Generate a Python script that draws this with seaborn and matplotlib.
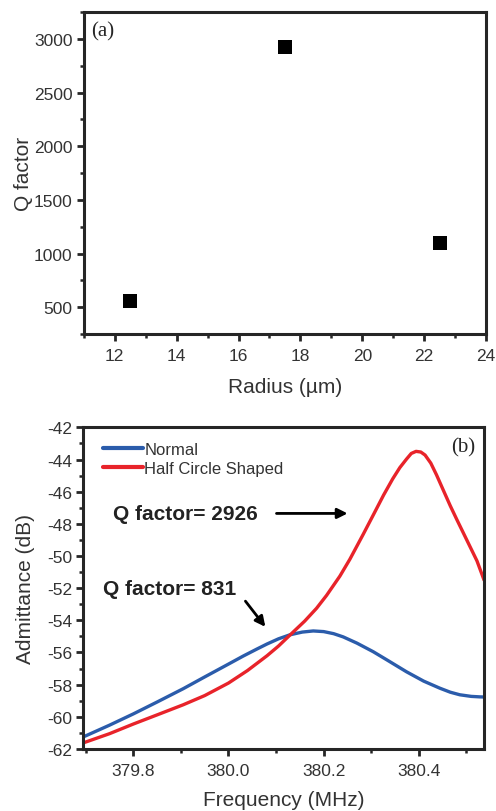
import numpy as np
import pandas as pd
import matplotlib.pyplot as plt
from matplotlib.ticker import MultipleLocator
import seaborn as sns

# (a) Q factor vs radius
radius = [12.5, 17.5, 22.5]
q_factor = [560, 2926, 1100]

# (b) admittance curves
freq_normal = [379.698, 379.75, 379.8, 379.85, 379.905, 379.95, 379.975, 380.0, 380.031,
               380.06, 380.081, 380.105, 380.129, 380.155, 380.178, 380.2, 380.221,
               380.241, 380.27, 380.304, 380.335, 380.374, 380.41, 380.444, 380.466,
               380.486, 380.51, 380.528, 380.54]
adm_normal = [-61.21, -60.52, -59.82, -59.08, -58.25, -57.52, -57.12, -56.72, -56.22,
              -55.78, -55.47, -55.15, -54.90, -54.73, -54.66, -54.70, -54.83,
              -55.03, -55.42, -55.95, -56.50, -57.20, -57.78, -58.22, -58.47,
              -58.63, -58.73, -58.76, -58.77]

freq_half = [379.698, 379.75, 379.8, 379.85, 379.905, 379.95, 380.0, 380.04, 380.081,
             380.105, 380.129, 380.16, 380.185, 380.206, 380.234, 380.255, 380.283,
             380.305, 380.326, 380.345, 380.36, 380.374, 380.384, 380.394, 380.404,
             380.413, 380.425, 380.437, 380.452, 380.466, 380.48, 380.494, 380.508,
             380.522, 380.537]
adm_half = [-61.59, -61.05, -60.45, -59.88, -59.25, -58.68, -57.90, -57.12, -56.20,
            -55.60, -54.92, -54.05, -53.25, -52.45, -51.25, -50.20, -48.65,
            -47.40, -46.20, -45.20, -44.50, -43.97, -43.62, -43.49, -43.53,
            -43.72, -44.22, -44.95, -45.95, -46.88, -47.75, -48.60, -49.45,
            -50.30, -51.50]

series_names = ["Normal", "Half Circle Shaped"]
series_colors = ["#2b5cab", "#e8232a"]

sns.set_style("ticks")
plt.rcParams['font.family'] = ['Liberation Sans', 'DejaVu Sans']
plt.rcParams['axes.unicode_minus'] = False
plt.rcParams['axes.linewidth'] = 2.2

fig = plt.figure(figsize=(4.96, 8.12), dpi=100)
ax1 = fig.add_axes([0.169, 0.5874, 0.811, 0.3966])
ax2 = fig.add_axes([0.168, 0.0764, 0.808, 0.396])

# ---- panel (a)
df_a = pd.DataFrame({'radius': radius, 'q': q_factor})
sns.scatterplot(data=df_a, x='radius', y='q', marker='s', s=90, color='black',
                edgecolor='black', linewidth=0, ax=ax1)
ax1.set_xlim(11, 24)
ax1.set_ylim(250, 3250)
ax1.xaxis.set_major_locator(MultipleLocator(2))
ax1.xaxis.set_minor_locator(MultipleLocator(1))
ax1.yaxis.set_minor_locator(MultipleLocator(250))
ax1.set_yticks([500, 1000, 1500, 2000, 2500, 3000])
ax1.set_xlabel('Radius (µm)', fontsize=15, color='#333333', labelpad=10)
ax1.set_ylabel('Q factor', fontsize=15, color='#333333', labelpad=1)
ax1.text(0.019, 0.94, '(a)', transform=ax1.transAxes, fontsize=15,
         family='Liberation Serif', va='center', ha='left')

# ---- panel (b)
df_b = pd.concat([
    pd.DataFrame({'freq': freq_normal, 'adm': adm_normal, 'type': series_names[0]}),
    pd.DataFrame({'freq': freq_half, 'adm': adm_half, 'type': series_names[1]}),
])
sns.lineplot(data=df_b, x='freq', y='adm', hue='type', palette=series_colors,
             linewidth=2.4, ax=ax2, sort=True)
ax2.set_xlim(379.695, 380.537)
ax2.set_ylim(-62, -42)
ax2.xaxis.set_major_locator(MultipleLocator(0.2))
ax2.xaxis.set_minor_locator(MultipleLocator(0.1))
ax2.yaxis.set_major_locator(MultipleLocator(2))
ax2.yaxis.set_minor_locator(MultipleLocator(1))
ax2.xaxis.set_major_formatter(plt.FormatStrFormatter('%.1f'))
ax2.yaxis.set_major_formatter(plt.FormatStrFormatter('%d'))
ax2.set_xlabel('Frequency (MHz)', fontsize=15, color='#333333', labelpad=9)
ax2.set_ylabel('Admittance (dB)', fontsize=15, color='#333333', labelpad=9)
ax2.text(0.977, 0.94, '(b)', transform=ax2.transAxes, fontsize=15,
         family='Liberation Serif', va='center', ha='right')

leg = ax2.legend(loc='upper left', bbox_to_anchor=(0.05, 0.955), frameon=False,
                 fontsize=12, handlelength=2.4, handletextpad=0.05,
                 labelspacing=0.25, borderpad=0, borderaxespad=0)
for line in leg.get_lines():
    line.set_linewidth(3)
for t in leg.get_texts():
    t.set_color('#333333')

ax2.annotate('', xy=(380.256, -47.35), xytext=(380.095, -47.35),
             arrowprops=dict(arrowstyle='-|>', color='black', lw=2, mutation_scale=15))
ax2.text(379.758, -47.35, 'Q factor= 2926', fontsize=15, fontweight='bold',
         va='center', ha='left', color='#222222')
ax2.annotate('', xy=(380.081, -54.54), xytext=(380.032, -52.67),
             arrowprops=dict(arrowstyle='-|>', color='black', lw=2, mutation_scale=15))
ax2.text(379.737, -51.99, 'Q factor= 831', fontsize=15, fontweight='bold',
         va='center', ha='left', color='#222222')

for ax in (ax1, ax2):
    for s in ax.spines.values():
        s.set_visible(True)
        s.set_linewidth(2.2)
    ax.tick_params(which='major', direction='out', length=5, width=2,
                   labelsize=12.5, labelcolor='#333333', pad=3)
    ax.tick_params(which='minor', direction='out', length=3, width=1.8)
    ax.tick_params(axis='x', which='major', pad=5)

fig.savefig('out.png', dpi=100)
